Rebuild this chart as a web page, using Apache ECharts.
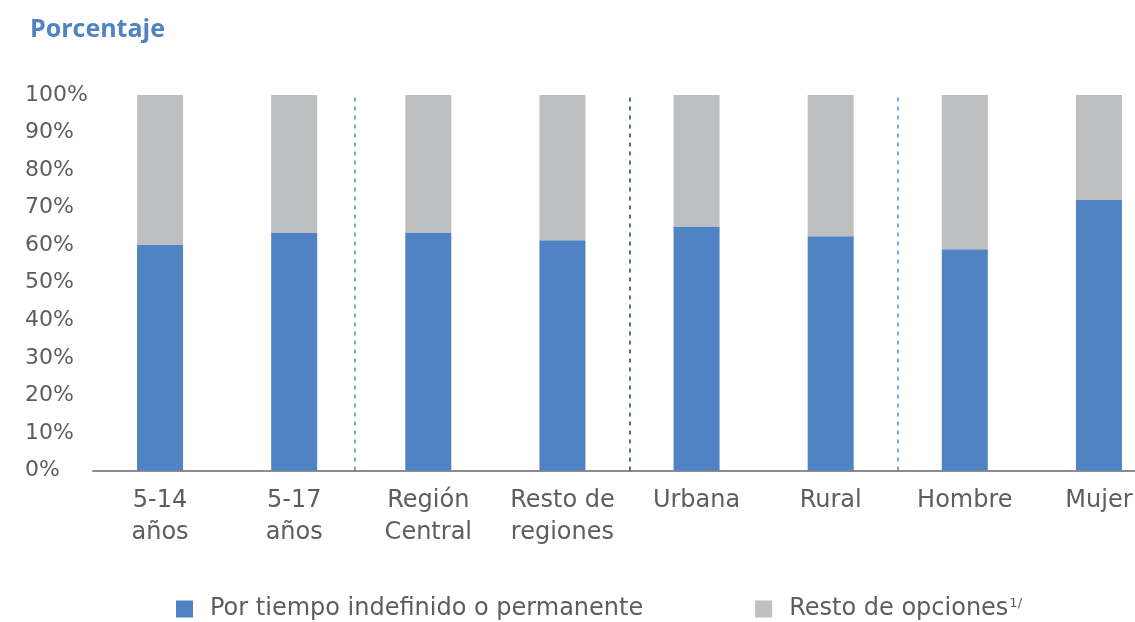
<!DOCTYPE html>
<html>
<head>
<meta charset="utf-8">
<script src="https://cdn.jsdelivr.net/npm/echarts@6/dist/echarts.min.js"></script>
<style>
html,body{margin:0;padding:0;background:#fff;overflow:hidden;}
#chart{width:1166px;height:622px;}
</style>
</head>
<body>
<div id="chart"></div>
<script>
const categories = ['5-14\naños', '5-17\naños', 'Región\nCentral', 'Resto de\nregiones', 'Urbana', 'Rural', 'Hombre', 'Mujer'];
const permanente = [60.2, 63.4, 63.4, 61.3, 65.0, 62.4, 58.9, 72.2];
const resto = [39.8, 36.6, 36.6, 38.7, 35.0, 37.6, 41.1, 27.8];
const seriesNames = ['Por tiempo indefinido o permanente', 'Resto de opciones'];
const dividerPositions = [1.95, 4, 6];
const dividerColors = ['#5a86c6', '#1f3e78', '#5a86c6'];
const yTicks = [0, 10, 20, 30, 40, 50, 60, 70, 80, 90, 100];

const FONT = 'DejaVu Sans';
const TXT = '#5d5d5d';

const chart = echarts.init(document.getElementById('chart'));

const dividerLines = dividerPositions.map((p, i) => [
  { coord: [p, yTicks[0]], lineStyle: { color: dividerColors[i] } },
  { coord: [p, yTicks[yTicks.length - 1]] }
]);

chart.setOption({
  animation: false,
  title: {
    text: 'Porcentaje',
    left: 25, top: 12,
    textStyle: { fontFamily: 'Open Sans', fontWeight: 'bold', fontSize: 25, color: '#4f83c4' }
  },
  legend: {
    top: 597,
    left: 176,
    padding: 0,
    icon: 'rect',
    itemWidth: 17, itemHeight: 17,
    itemGap: 112,
    data: seriesNames,
    formatter: function (name) {
      return name === seriesNames[1] ? '{t|' + name + '}{sup|1/}' : '{t|' + name + '}';
    },
    textStyle: {
      fontFamily: FONT, fontSize: 24, color: TXT,
      rich: {
        t: { fontFamily: FONT, fontSize: 24, color: TXT, padding: [0, 0, 0, 12] },
        sup: { fontFamily: FONT, fontSize: 13, color: TXT, verticalAlign: 'top', padding: [0, 0, 10, 1] }
      }
    }
  },
  grid: { left: 93, right: 0, top: 95, bottom: 151.5, containLabel: false },
  xAxis: [{
    type: 'category',
    data: categories,
    axisLine: { lineStyle: { color: '#8c8c8c', width: 2 } },
    axisTick: { show: false },
    axisLabel: { fontFamily: FONT, fontSize: 24, color: TXT, lineHeight: 32, margin: 14, interval: 0 }
  }, {
    type: 'value', min: 0, max: categories.length, show: false
  }],
  yAxis: {
    type: 'value', min: 0, max: 100, interval: 10,
    axisLine: { show: false }, axisTick: { show: false },
    splitLine: { show: false },
    axisLabel: { fontFamily: FONT, fontSize: 22, color: TXT, align: 'left', margin: 68, formatter: '{value}%' }
  },
  series: [{
    name: seriesNames[0], type: 'bar', stack: 'a', barWidth: 46,
    data: permanente, itemStyle: { color: '#4f83c4' }
  }, {
    name: seriesNames[1], type: 'bar', stack: 'a', barWidth: 46,
    data: resto, itemStyle: { color: '#bebfc1' }
  }, {
    type: 'line', xAxisIndex: 1, data: [], silent: true,
    markLine: {
      symbol: 'none', silent: true, label: { show: false },
      lineStyle: { type: [4, 5], width: 1.5 },
      data: dividerLines
    }
  }]
});
</script>
</body>
</html>
